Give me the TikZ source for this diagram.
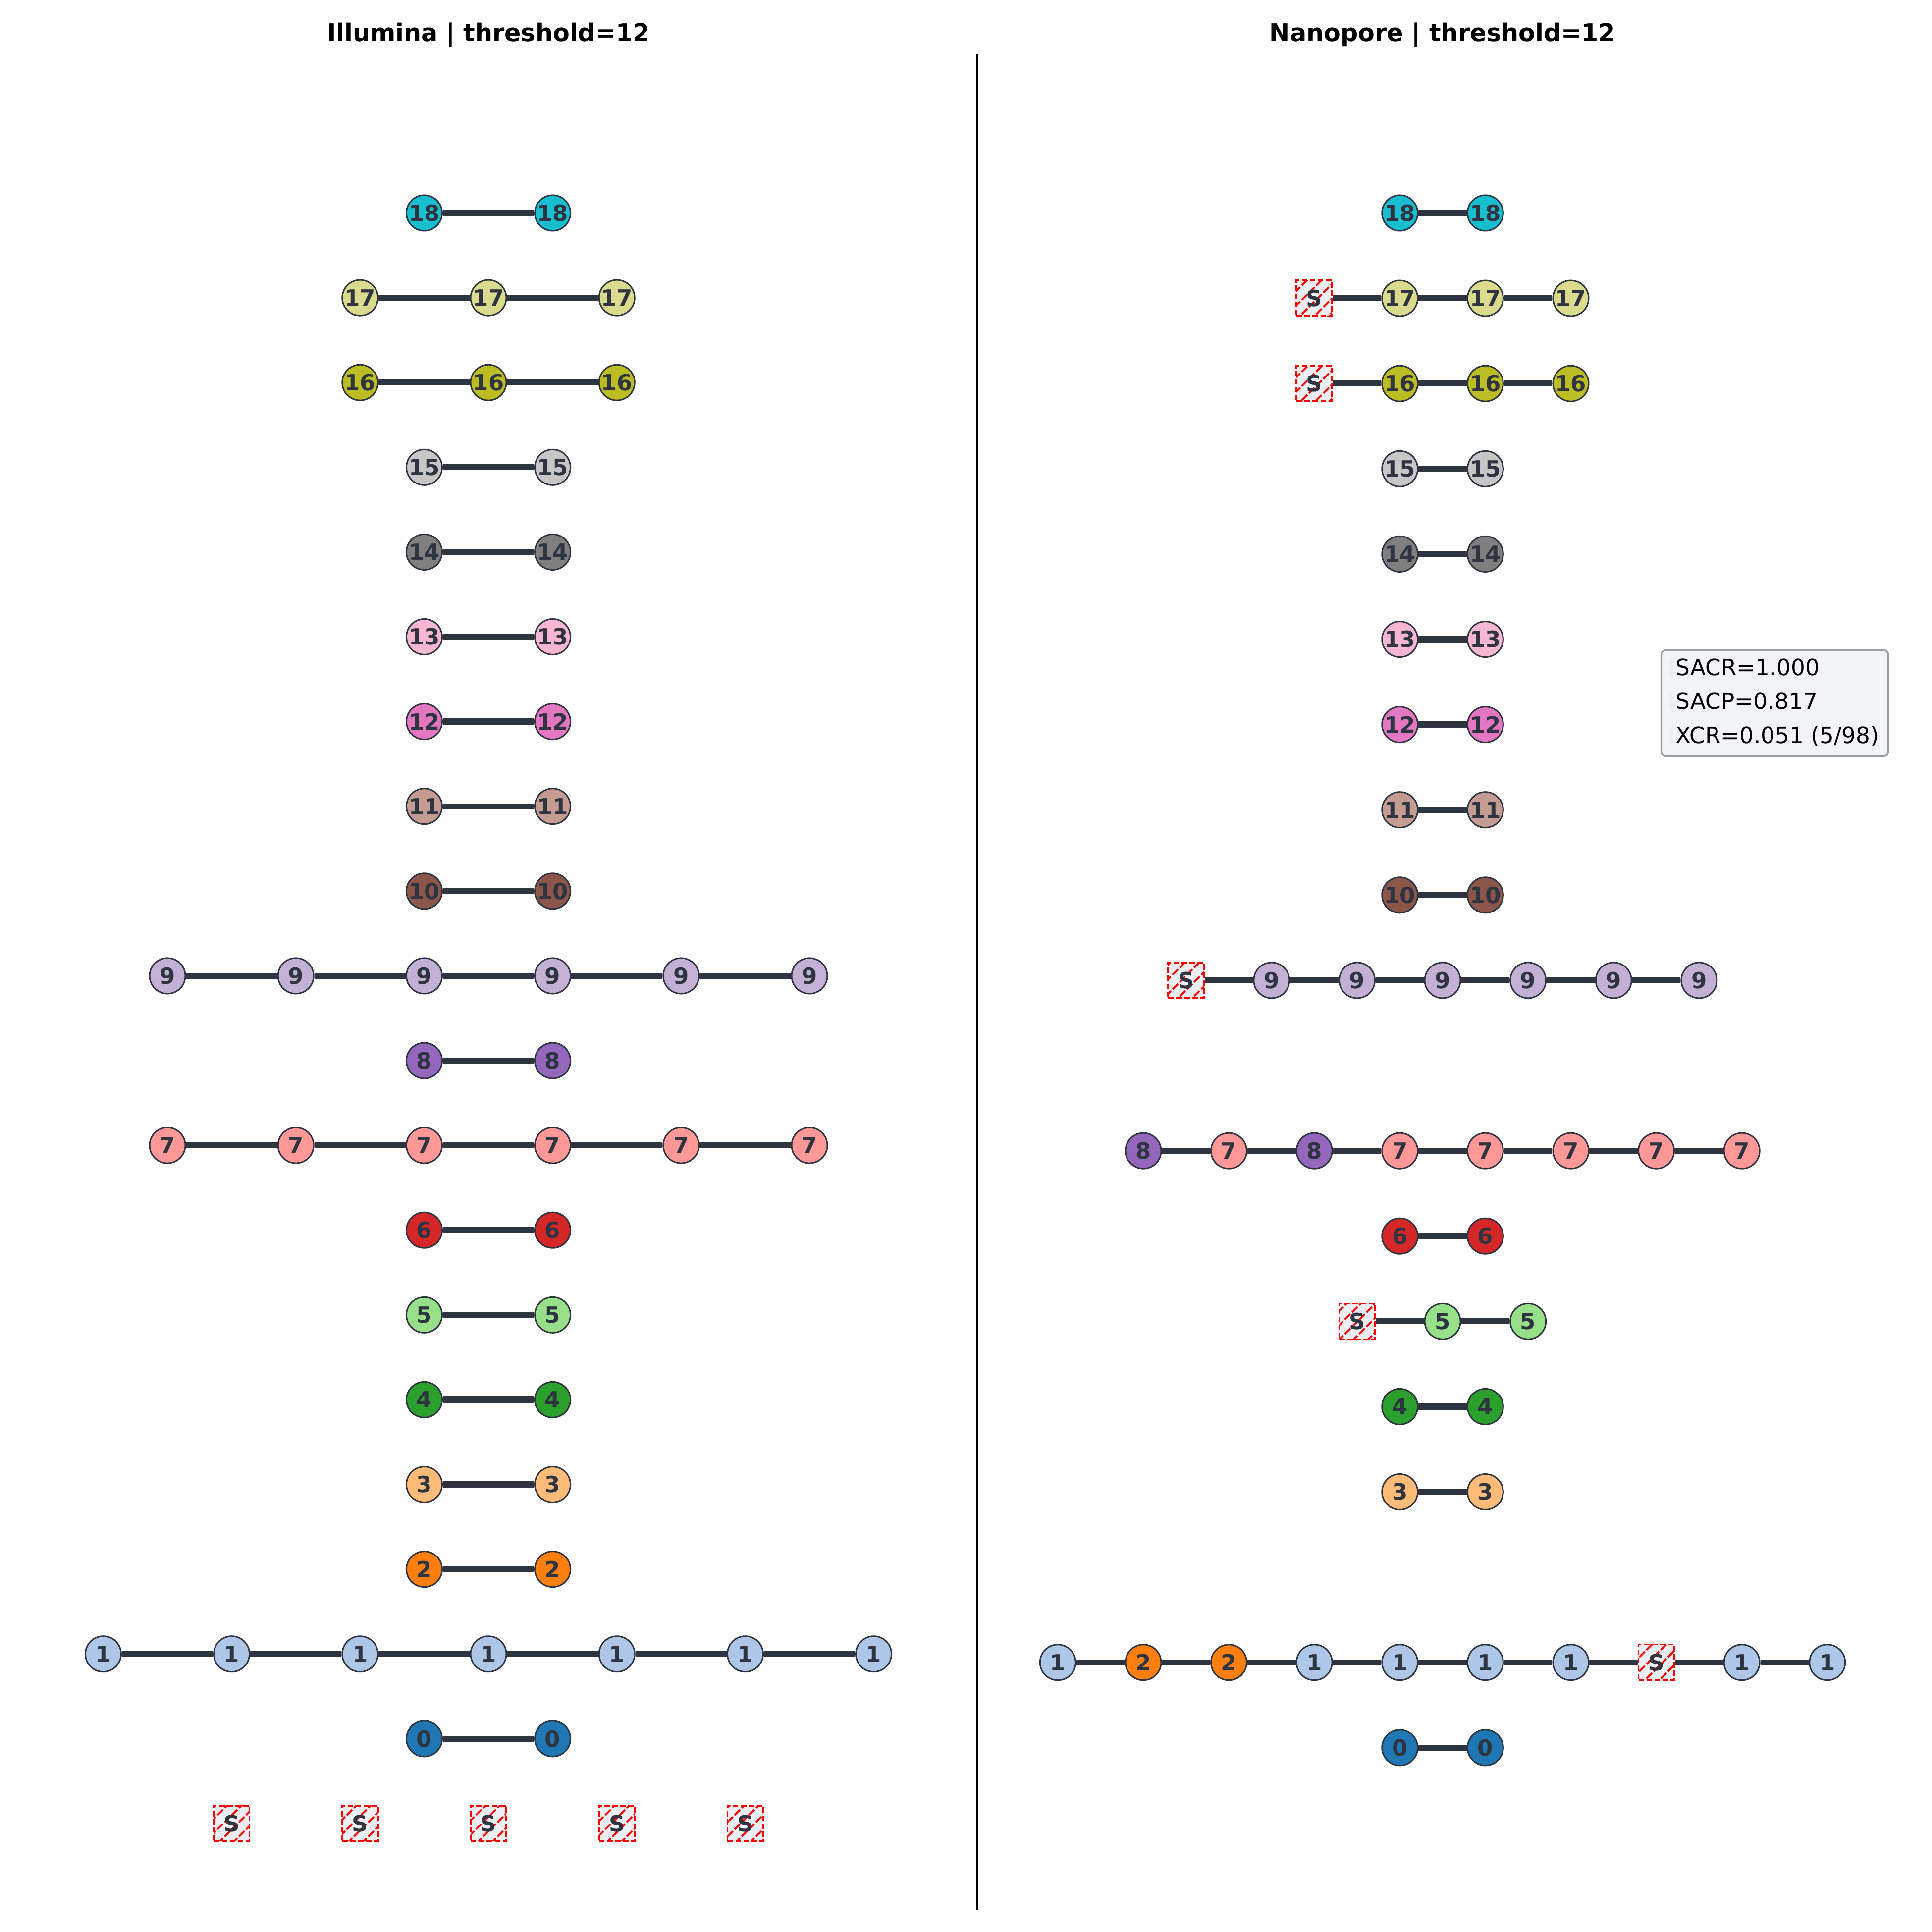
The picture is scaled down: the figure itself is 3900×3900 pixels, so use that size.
\documentclass[tikz,border=0pt]{standalone}
\usepackage{fontspec}
\setmainfont{DejaVu Sans}
\usetikzlibrary{patterns.meta}

\definecolor{ink}{HTML}{2E3440}
\definecolor{sfill}{HTML}{ECEFF4}
\definecolor{legfill}{HTML}{F2F4F8}
\definecolor{legedge}{HTML}{999CA3}
\definecolor{c0}{HTML}{1F77B4}
\definecolor{c1}{HTML}{AEC7E8}
\definecolor{c2}{HTML}{FF7F0E}
\definecolor{c3}{HTML}{FFBB78}
\definecolor{c4}{HTML}{2CA02C}
\definecolor{c5}{HTML}{98DF8A}
\definecolor{c6}{HTML}{D62728}
\definecolor{c7}{HTML}{FF9896}
\definecolor{c8}{HTML}{9467BD}
\definecolor{c9}{HTML}{C5B0D5}
\definecolor{c10}{HTML}{8C564B}
\definecolor{c11}{HTML}{C49C94}
\definecolor{c12}{HTML}{E377C2}
\definecolor{c13}{HTML}{F7B6D2}
\definecolor{c14}{HTML}{7F7F7F}
\definecolor{c15}{HTML}{C7C7C7}
\definecolor{c16}{HTML}{BCBD22}
\definecolor{c17}{HTML}{DBDB8D}
\definecolor{c18}{HTML}{17BECF}

\def\spacertag{S}
% #1 name, #2 x centre, #3 half step, #4 y, #5 list of offset/label
\newcommand{\contigrow}[5]{%
	\foreach \k/\lab [count=\n, remember=\n as \prev (initially 0)] in {#5}{%
		\edef\cellkind{\lab}%
		\ifx\cellkind\spacertag
			\node[spacer] (#1-\n) at ({#2+#3*\k},{#4}) {S};
		\else
			\node[contig,fill=c\lab] (#1-\n) at ({#2+#3*\k},{#4}) {\lab};
		\fi
		\ifnum\prev>0 \draw[link] (#1-\prev) -- (#1-\n);\fi
	}%
}

\begin{document}
\begin{tikzpicture}[
		x=0.1mm,y=-0.1mm,
		contig/.style={circle,draw=ink,line width=0.85pt,minimum size=7.2mm,inner sep=0pt,
				text=ink,font=\fontsize{12.8}{14}\selectfont\bfseries},
		spacer/.style={rectangle,draw=red,line width=1pt,dash pattern=on 3.2pt off 1.4pt,
				minimum size=7.2mm,inner sep=0pt,preaction={fill=sfill},
				pattern={Lines[angle=45,distance=2.05mm,line width=0.38mm]},pattern color=red,
				text=ink,font=\fontsize{12.8}{14}\selectfont\bfseries},
		link/.style={draw=ink,line width=3.5pt},
		panel title/.style={anchor=base,font=\fontsize{14}{16}\selectfont\bfseries},
		statbox/.style={draw=legedge,fill=legfill,line width=0.33mm,rounded corners=0.9mm,
				minimum width=45.8mm,minimum height=21.4mm},
		stat/.style={anchor=base west,inner sep=0pt,font=\fontsize{12.9}{14}\selectfont}
	]
	\useasboundingbox (0,0) rectangle (3900,3900);

	\node[panel title] (ltitle) at (986,84) {Illumina | threshold=12};
	\node[panel title] (rtitle) at (2912,84) {Nanopore | threshold=12};

	\coordinate (divtop) at (1973,108);
	\coordinate (divbot) at (1973,3855);
	\draw[line width=0.94pt] (divtop) -- (divbot);

	\contigrow{L18}{986}{129.6}{430+171.1*0}{-1/18,1/18}
	\contigrow{L17}{986}{129.6}{430+171.1*1}{-2/17,0/17,2/17}
	\contigrow{L16}{986}{129.6}{430+171.1*2}{-2/16,0/16,2/16}
	\contigrow{L15}{986}{129.6}{430+171.1*3}{-1/15,1/15}
	\contigrow{L14}{986}{129.6}{430+171.1*4}{-1/14,1/14}
	\contigrow{L13}{986}{129.6}{430+171.1*5}{-1/13,1/13}
	\contigrow{L12}{986}{129.6}{430+171.1*6}{-1/12,1/12}
	\contigrow{L11}{986}{129.6}{430+171.1*7}{-1/11,1/11}
	\contigrow{L10}{986}{129.6}{430+171.1*8}{-1/10,1/10}
	\contigrow{L9}{986}{129.6}{430+171.1*9}{-5/9,-3/9,-1/9,1/9,3/9,5/9}
	\contigrow{L8}{986}{129.6}{430+171.1*10}{-1/8,1/8}
	\contigrow{L7}{986}{129.6}{430+171.1*11}{-5/7,-3/7,-1/7,1/7,3/7,5/7}
	\contigrow{L6}{986}{129.6}{430+171.1*12}{-1/6,1/6}
	\contigrow{L5}{986}{129.6}{430+171.1*13}{-1/5,1/5}
	\contigrow{L4}{986}{129.6}{430+171.1*14}{-1/4,1/4}
	\contigrow{L3}{986}{129.6}{430+171.1*15}{-1/3,1/3}
	\contigrow{L2}{986}{129.6}{430+171.1*16}{-1/2,1/2}
	\contigrow{L1}{986}{129.6}{430+171.1*17}{-6/1,-4/1,-2/1,0/1,2/1,4/1,6/1}
	\contigrow{L0}{986}{129.6}{430+171.1*18}{-1/0,1/0}
	\foreach \k [count=\n] in {-4,-2,0,2,4}
	\node[spacer] (LS-\n) at ({986+129.6*\k},{430+171.1*19}) {S};

	\contigrow{R18}{2912}{86.3}{430+172.1*0}{-1/18,1/18}
	\contigrow{R17}{2912}{86.3}{430+172.1*1}{-3/S,-1/17,1/17,3/17}
	\contigrow{R16}{2912}{86.3}{430+172.1*2}{-3/S,-1/16,1/16,3/16}
	\contigrow{R15}{2912}{86.3}{430+172.1*3}{-1/15,1/15}
	\contigrow{R14}{2912}{86.3}{430+172.1*4}{-1/14,1/14}
	\contigrow{R13}{2912}{86.3}{430+172.1*5}{-1/13,1/13}
	\contigrow{R12}{2912}{86.3}{430+172.1*6}{-1/12,1/12}
	\contigrow{R11}{2912}{86.3}{430+172.1*7}{-1/11,1/11}
	\contigrow{R10}{2912}{86.3}{430+172.1*8}{-1/10,1/10}
	\contigrow{R9}{2912}{86.3}{430+172.1*9}{-6/S,-4/9,-2/9,0/9,2/9,4/9,6/9}
	\contigrow{R7}{2912}{86.3}{430+172.1*11}{-7/8,-5/7,-3/8,-1/7,1/7,3/7,5/7,7/7}
	\contigrow{R6}{2912}{86.3}{430+172.1*12}{-1/6,1/6}
	\contigrow{R5}{2912}{86.3}{430+172.1*13}{-2/S,0/5,2/5}
	\contigrow{R4}{2912}{86.3}{430+172.1*14}{-1/4,1/4}
	\contigrow{R3}{2912}{86.3}{430+172.1*15}{-1/3,1/3}
	\contigrow{R1}{2912}{86.3}{430+172.1*17}{-9/1,-7/2,-5/2,-3/1,-1/1,1/1,3/1,5/S,7/1,9/1}
	\contigrow{R0}{2912}{86.3}{430+172.1*18}{-1/0,1/0}

	\node[statbox] (stats) at (3582.5,1419.5) {};
	\fill[sfill] ([xshift=1.7mm,yshift=-1.9mm]stats.north west) rectangle ++(0.9mm,-3.6mm);
	\fill[sfill] ([xshift=1.7mm,yshift=-8.6mm]stats.north west) rectangle ++(0.9mm,-3.6mm);
	\fill[sfill] ([xshift=1.7mm,yshift=-15.6mm]stats.north west) rectangle ++(0.9mm,-3.6mm);
	\node[stat] (sacr) at ([xshift=3mm,yshift=-5.3mm]stats.north west) {SACR=1.000};
	\node[stat] (sacp) at ([xshift=3mm,yshift=-12.1mm]stats.north west) {SACP=0.817};
	\node[stat] (xcr) at ([xshift=3mm,yshift=-19mm]stats.north west) {XCR=0.051 (5/98)};
\end{tikzpicture}
\end{document}
